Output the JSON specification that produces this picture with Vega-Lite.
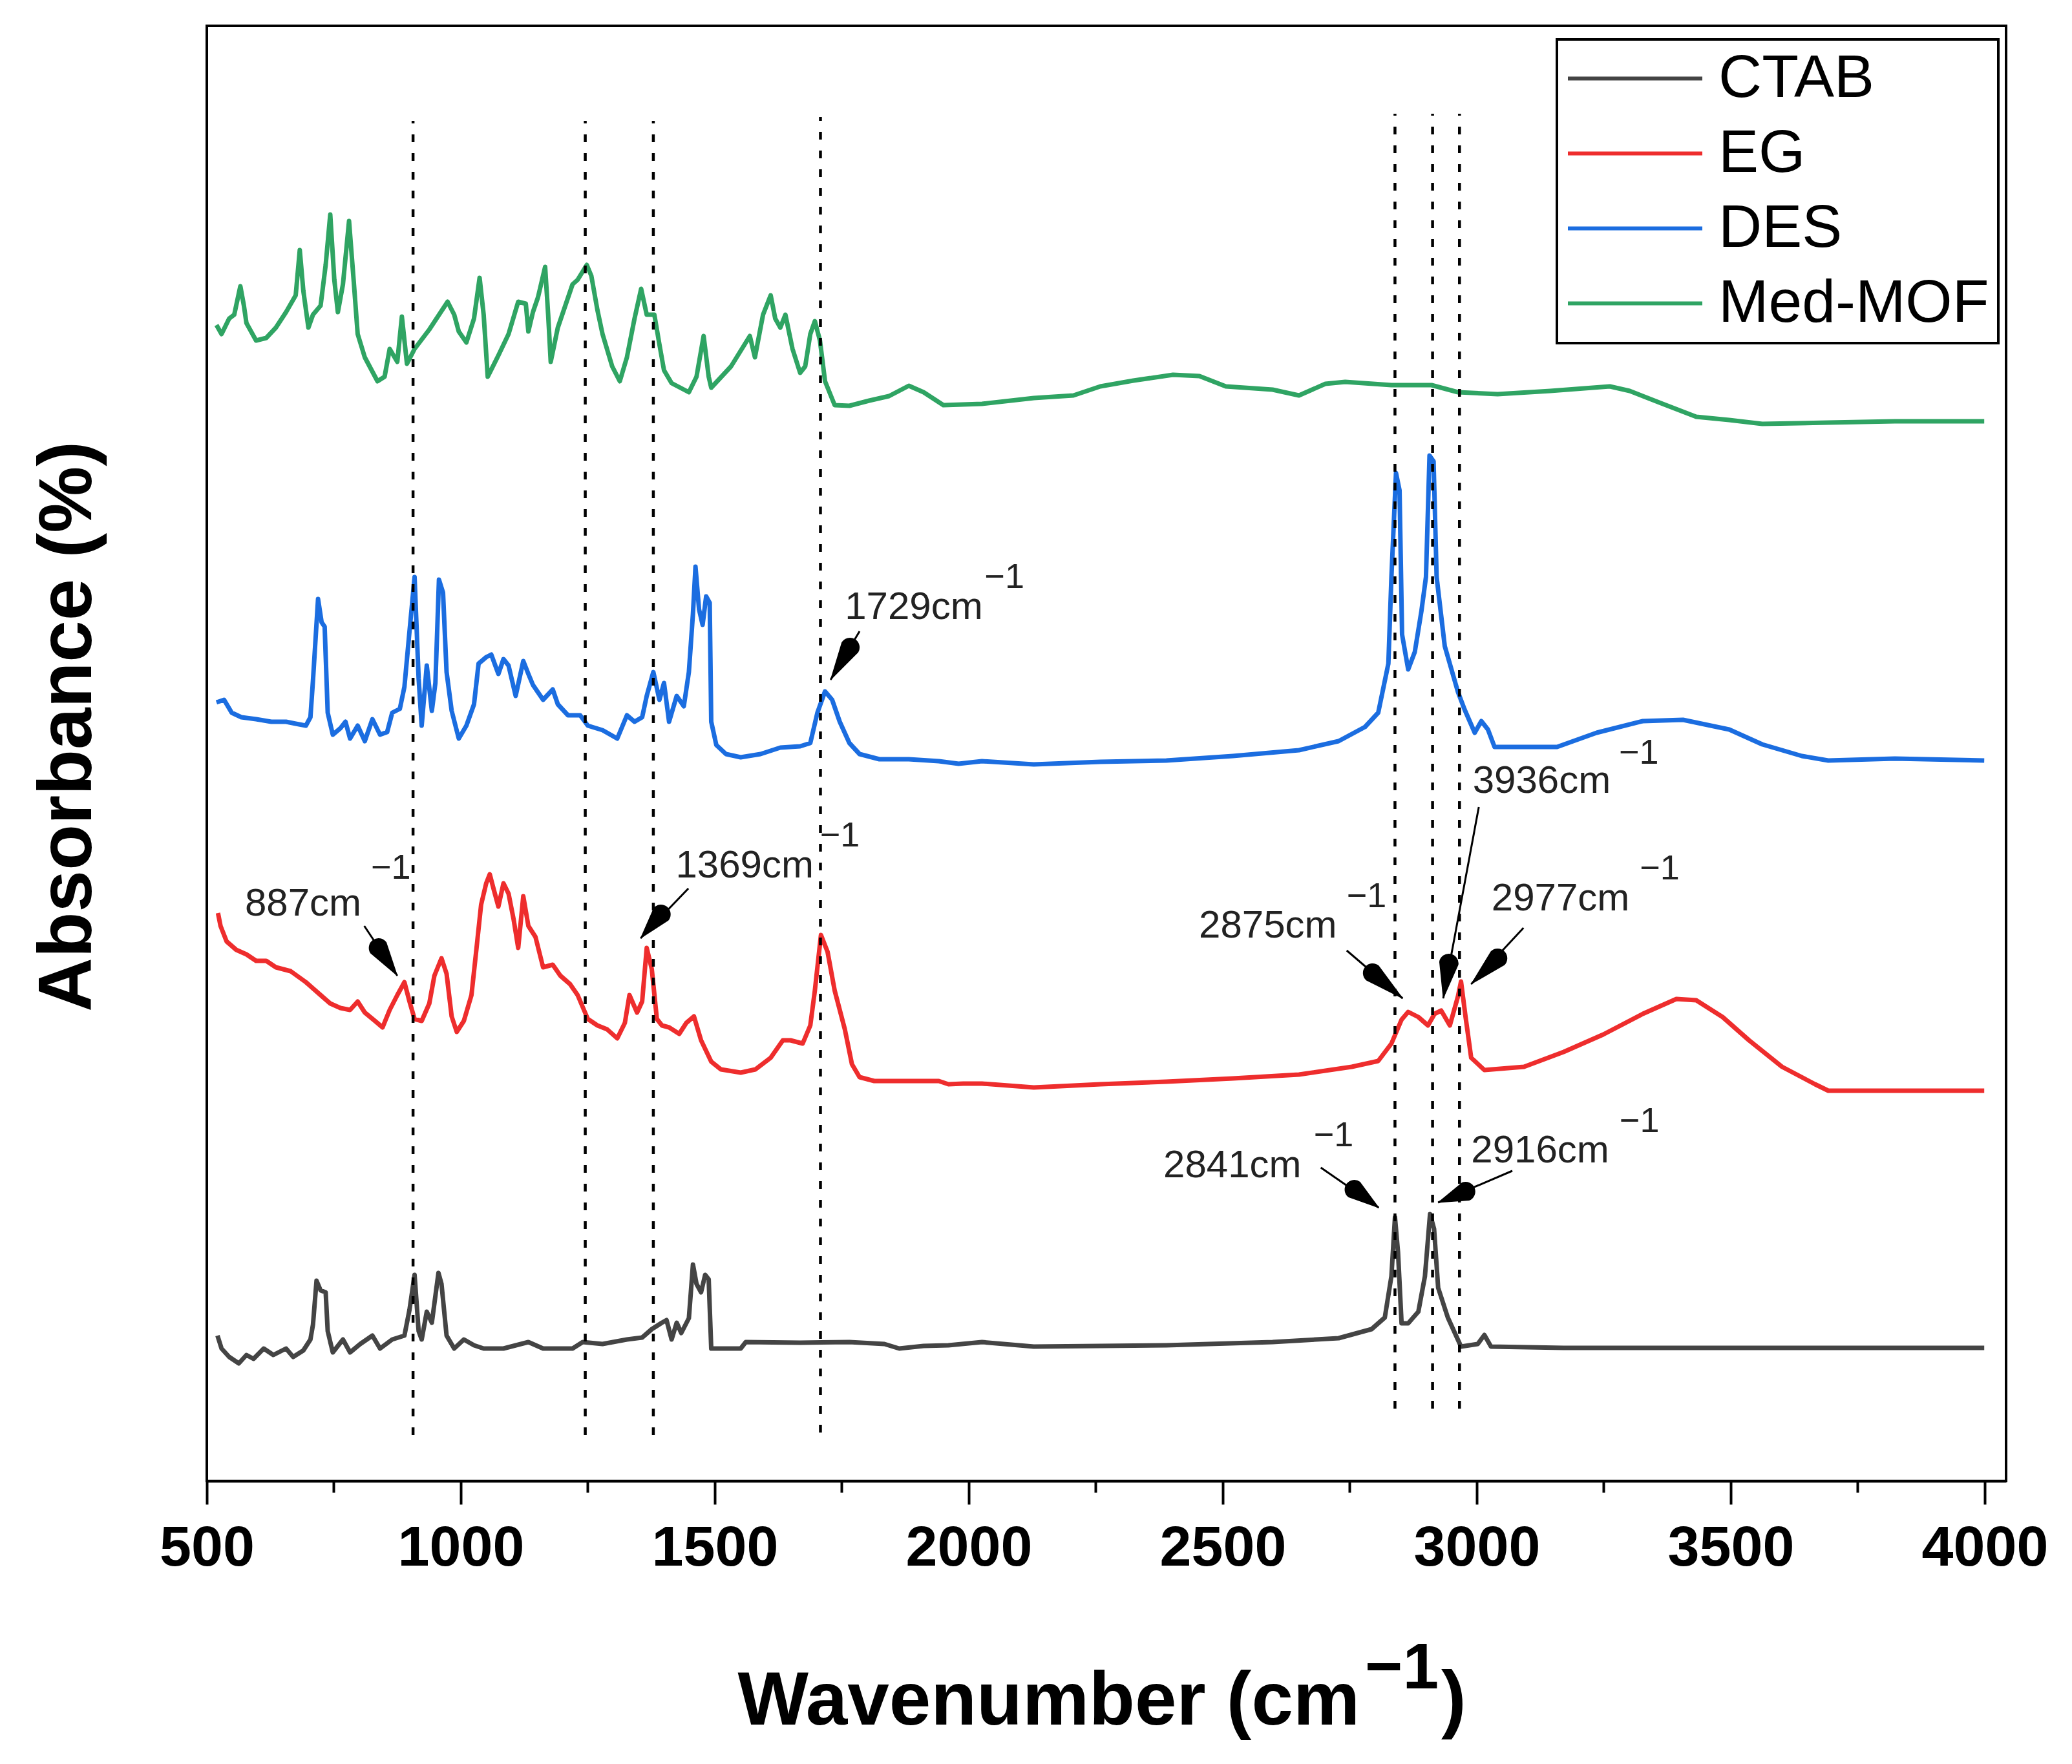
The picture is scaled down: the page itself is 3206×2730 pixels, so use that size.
{
  "$schema": "https://vega.github.io/schema/vega-lite/v6.json",
  "width": 2784,
  "height": 2252,
  "autosize": {"type": "none"},
  "padding": {"left": 320, "top": 40, "right": 102, "bottom": 438},
  "background": "white",
  "config": {
    "view": {"stroke": "black", "strokeWidth": 4},
    "font": "Liberation Sans"
  },
  "datasets": {
    "spectra": [
      {"s":"Med-MOF","x":519,"y":1789},{"s":"Med-MOF","x":529,"y":1775},{"s":"Med-MOF","x":544,"y":1799},{"s":"Med-MOF","x":554,"y":1805},{"s":"Med-MOF","x":566,"y":1849},{"s":"Med-MOF","x":573,"y":1819},{"s":"Med-MOF","x":578,"y":1792},{"s":"Med-MOF","x":597,"y":1765},{"s":"Med-MOF","x":617,"y":1769},{"s":"Med-MOF","x":636,"y":1785},{"s":"Med-MOF","x":656,"y":1809},{"s":"Med-MOF","x":675,"y":1835},{"s":"Med-MOF","x":683,"y":1905},{"s":"Med-MOF","x":690,"y":1842},{"s":"Med-MOF","x":700,"y":1785},{"s":"Med-MOF","x":709,"y":1805},{"s":"Med-MOF","x":724,"y":1819},{"s":"Med-MOF","x":734,"y":1882},{"s":"Med-MOF","x":743,"y":1960},{"s":"Med-MOF","x":751,"y":1859},{"s":"Med-MOF","x":758,"y":1809},{"s":"Med-MOF","x":768,"y":1852},{"s":"Med-MOF","x":780,"y":1950},{"s":"Med-MOF","x":789,"y":1859},{"s":"Med-MOF","x":797,"y":1775},{"s":"Med-MOF","x":811,"y":1739},{"s":"Med-MOF","x":836,"y":1702},{"s":"Med-MOF","x":850,"y":1709},{"s":"Med-MOF","x":860,"y":1752},{"s":"Med-MOF","x":875,"y":1732},{"s":"Med-MOF","x":884,"y":1802},{"s":"Med-MOF","x":894,"y":1729},{"s":"Med-MOF","x":909,"y":1752},{"s":"Med-MOF","x":938,"y":1782},{"s":"Med-MOF","x":974,"y":1825},{"s":"Med-MOF","x":987,"y":1805},{"s":"Med-MOF","x":996,"y":1779},{"s":"Med-MOF","x":1011,"y":1762},{"s":"Med-MOF","x":1026,"y":1799},{"s":"Med-MOF","x":1037,"y":1862},{"s":"Med-MOF","x":1045,"y":1805},{"s":"Med-MOF","x":1053,"y":1709},{"s":"Med-MOF","x":1074,"y":1742},{"s":"Med-MOF","x":1094,"y":1775},{"s":"Med-MOF","x":1113,"y":1825},{"s":"Med-MOF","x":1128,"y":1822},{"s":"Med-MOF","x":1133,"y":1779},{"s":"Med-MOF","x":1142,"y":1809},{"s":"Med-MOF","x":1152,"y":1832},{"s":"Med-MOF","x":1166,"y":1879},{"s":"Med-MOF","x":1172,"y":1805},{"s":"Med-MOF","x":1177,"y":1732},{"s":"Med-MOF","x":1191,"y":1785},{"s":"Med-MOF","x":1220,"y":1852},{"s":"Med-MOF","x":1230,"y":1859},{"s":"Med-MOF","x":1248,"y":1882},{"s":"Med-MOF","x":1257,"y":1865},{"s":"Med-MOF","x":1269,"y":1812},{"s":"Med-MOF","x":1279,"y":1775},{"s":"Med-MOF","x":1298,"y":1725},{"s":"Med-MOF","x":1313,"y":1702},{"s":"Med-MOF","x":1327,"y":1739},{"s":"Med-MOF","x":1342,"y":1799},{"s":"Med-MOF","x":1355,"y":1845},{"s":"Med-MOF","x":1366,"y":1805},{"s":"Med-MOF","x":1381,"y":1805},{"s":"Med-MOF","x":1391,"y":1759},{"s":"Med-MOF","x":1400,"y":1719},{"s":"Med-MOF","x":1415,"y":1699},{"s":"Med-MOF","x":1449,"y":1685},{"s":"Med-MOF","x":1464,"y":1709},{"s":"Med-MOF","x":1478,"y":1772},{"s":"Med-MOF","x":1488,"y":1709},{"s":"Med-MOF","x":1493,"y":1692},{"s":"Med-MOF","x":1532,"y":1725},{"s":"Med-MOF","x":1569,"y":1772},{"s":"Med-MOF","x":1579,"y":1739},{"s":"Med-MOF","x":1595,"y":1805},{"s":"Med-MOF","x":1610,"y":1835},{"s":"Med-MOF","x":1619,"y":1799},{"s":"Med-MOF","x":1629,"y":1785},{"s":"Med-MOF","x":1639,"y":1805},{"s":"Med-MOF","x":1653,"y":1752},{"s":"Med-MOF","x":1668,"y":1715},{"s":"Med-MOF","x":1678,"y":1725},{"s":"Med-MOF","x":1688,"y":1775},{"s":"Med-MOF","x":1697,"y":1795},{"s":"Med-MOF","x":1707,"y":1765},{"s":"Med-MOF","x":1717,"y":1702},{"s":"Med-MOF","x":1736,"y":1665},{"s":"Med-MOF","x":1765,"y":1664},{"s":"Med-MOF","x":1804,"y":1672},{"s":"Med-MOF","x":1843,"y":1679},{"s":"Med-MOF","x":1882,"y":1695},{"s":"Med-MOF","x":1911,"y":1685},{"s":"Med-MOF","x":1950,"y":1665},{"s":"Med-MOF","x":2026,"y":1667},{"s":"Med-MOF","x":2128,"y":1676},{"s":"Med-MOF","x":2206,"y":1680},{"s":"Med-MOF","x":2259,"y":1694},{"s":"Med-MOF","x":2324,"y":1703},{"s":"Med-MOF","x":2402,"y":1712},{"s":"Med-MOF","x":2454,"y":1710},{"s":"Med-MOF","x":2506,"y":1694},{"s":"Med-MOF","x":2598,"y":1689},{"s":"Med-MOF","x":2650,"y":1680},{"s":"Med-MOF","x":2702,"y":1698},{"s":"Med-MOF","x":2741,"y":1701},{"s":"Med-MOF","x":2832,"y":1696},{"s":"Med-MOF","x":2911,"y":1696},{"s":"Med-MOF","x":2963,"y":1685},{"s":"Med-MOF","x":3041,"y":1682},{"s":"Med-MOF","x":3145,"y":1687},{"s":"Med-MOF","x":3262,"y":1694},{"s":"Med-MOF","x":3301,"y":1687},{"s":"Med-MOF","x":3366,"y":1667},{"s":"Med-MOF","x":3432,"y":1647},{"s":"Med-MOF","x":3497,"y":1642},{"s":"Med-MOF","x":3562,"y":1636},{"s":"Med-MOF","x":3692,"y":1638},{"s":"Med-MOF","x":3823,"y":1640},{"s":"Med-MOF","x":3999,"y":1640},

      {"s":"DES","x":519,"y":1205},{"s":"DES","x":534,"y":1209},{"s":"DES","x":549,"y":1189},{"s":"DES","x":568,"y":1182},{"s":"DES","x":597,"y":1179},{"s":"DES","x":627,"y":1175},{"s":"DES","x":656,"y":1175},{"s":"DES","x":675,"y":1172},{"s":"DES","x":695,"y":1169},{"s":"DES","x":704,"y":1182},{"s":"DES","x":709,"y":1239},{"s":"DES","x":719,"y":1365},{"s":"DES","x":726,"y":1329},{"s":"DES","x":732,"y":1322},{"s":"DES","x":738,"y":1189},{"s":"DES","x":748,"y":1155},{"s":"DES","x":763,"y":1165},{"s":"DES","x":773,"y":1175},{"s":"DES","x":782,"y":1149},{"s":"DES","x":797,"y":1169},{"s":"DES","x":811,"y":1145},{"s":"DES","x":826,"y":1179},{"s":"DES","x":841,"y":1155},{"s":"DES","x":855,"y":1159},{"s":"DES","x":865,"y":1189},{"s":"DES","x":880,"y":1195},{"s":"DES","x":889,"y":1229},{"s":"DES","x":899,"y":1315},{"s":"DES","x":909,"y":1399},{"s":"DES","x":917,"y":1242},{"s":"DES","x":923,"y":1169},{"s":"DES","x":933,"y":1262},{"s":"DES","x":943,"y":1192},{"s":"DES","x":950,"y":1235},{"s":"DES","x":957,"y":1395},{"s":"DES","x":965,"y":1375},{"s":"DES","x":972,"y":1252},{"s":"DES","x":982,"y":1192},{"s":"DES","x":996,"y":1149},{"s":"DES","x":1011,"y":1169},{"s":"DES","x":1026,"y":1202},{"s":"DES","x":1035,"y":1265},{"s":"DES","x":1050,"y":1275},{"s":"DES","x":1060,"y":1279},{"s":"DES","x":1074,"y":1249},{"s":"DES","x":1084,"y":1272},{"s":"DES","x":1094,"y":1262},{"s":"DES","x":1108,"y":1215},{"s":"DES","x":1123,"y":1269},{"s":"DES","x":1133,"y":1249},{"s":"DES","x":1142,"y":1232},{"s":"DES","x":1162,"y":1209},{"s":"DES","x":1181,"y":1225},{"s":"DES","x":1191,"y":1202},{"s":"DES","x":1211,"y":1185},{"s":"DES","x":1235,"y":1185},{"s":"DES","x":1250,"y":1169},{"s":"DES","x":1279,"y":1162},{"s":"DES","x":1308,"y":1149},{"s":"DES","x":1327,"y":1185},{"s":"DES","x":1342,"y":1175},{"s":"DES","x":1357,"y":1182},{"s":"DES","x":1366,"y":1215},{"s":"DES","x":1379,"y":1252},{"s":"DES","x":1391,"y":1209},{"s":"DES","x":1400,"y":1235},{"s":"DES","x":1410,"y":1175},{"s":"DES","x":1425,"y":1215},{"s":"DES","x":1439,"y":1199},{"s":"DES","x":1449,"y":1252},{"s":"DES","x":1457,"y":1342},{"s":"DES","x":1462,"y":1415},{"s":"DES","x":1469,"y":1349},{"s":"DES","x":1476,"y":1325},{"s":"DES","x":1483,"y":1369},{"s":"DES","x":1490,"y":1359},{"s":"DES","x":1493,"y":1175},{"s":"DES","x":1503,"y":1139},{"s":"DES","x":1522,"y":1125},{"s":"DES","x":1551,"y":1120},{"s":"DES","x":1590,"y":1125},{"s":"DES","x":1629,"y":1135},{"s":"DES","x":1668,"y":1137},{"s":"DES","x":1688,"y":1142},{"s":"DES","x":1702,"y":1189},{"s":"DES","x":1717,"y":1222},{"s":"DES","x":1731,"y":1209},{"s":"DES","x":1746,"y":1175},{"s":"DES","x":1765,"y":1142},{"s":"DES","x":1785,"y":1125},{"s":"DES","x":1824,"y":1117},{"s":"DES","x":1882,"y":1117},{"s":"DES","x":1941,"y":1114},{"s":"DES","x":1980,"y":1110},{"s":"DES","x":2026,"y":1114},{"s":"DES","x":2128,"y":1109},{"s":"DES","x":2259,"y":1113},{"s":"DES","x":2389,"y":1115},{"s":"DES","x":2520,"y":1122},{"s":"DES","x":2650,"y":1131},{"s":"DES","x":2728,"y":1145},{"s":"DES","x":2780,"y":1167},{"s":"DES","x":2806,"y":1189},{"s":"DES","x":2826,"y":1265},{"s":"DES","x":2832,"y":1399},{"s":"DES","x":2841,"y":1560},{"s":"DES","x":2848,"y":1533},{"s":"DES","x":2853,"y":1310},{"s":"DES","x":2865,"y":1256},{"s":"DES","x":2878,"y":1283},{"s":"DES","x":2891,"y":1346},{"s":"DES","x":2900,"y":1399},{"s":"DES","x":2907,"y":1587},{"s":"DES","x":2915,"y":1578},{"s":"DES","x":2921,"y":1399},{"s":"DES","x":2937,"y":1292},{"s":"DES","x":2963,"y":1221},{"s":"DES","x":2976,"y":1194},{"s":"DES","x":2996,"y":1158},{"s":"DES","x":3009,"y":1176},{"s":"DES","x":3022,"y":1163},{"s":"DES","x":3035,"y":1136},{"s":"DES","x":3158,"y":1136},{"s":"DES","x":3236,"y":1158},{"s":"DES","x":3327,"y":1176},{"s":"DES","x":3406,"y":1178},{"s":"DES","x":3497,"y":1163},{"s":"DES","x":3562,"y":1140},{"s":"DES","x":3640,"y":1122},{"s":"DES","x":3692,"y":1115},{"s":"DES","x":3823,"y":1118},{"s":"DES","x":3999,"y":1115},

      {"s":"EG","x":522,"y":879},{"s":"EG","x":527,"y":859},{"s":"EG","x":539,"y":835},{"s":"EG","x":558,"y":822},{"s":"EG","x":578,"y":815},{"s":"EG","x":597,"y":805},{"s":"EG","x":617,"y":805},{"s":"EG","x":636,"y":795},{"s":"EG","x":665,"y":789},{"s":"EG","x":695,"y":772},{"s":"EG","x":724,"y":752},{"s":"EG","x":743,"y":739},{"s":"EG","x":763,"y":732},{"s":"EG","x":782,"y":729},{"s":"EG","x":797,"y":742},{"s":"EG","x":811,"y":725},{"s":"EG","x":831,"y":712},{"s":"EG","x":846,"y":702},{"s":"EG","x":860,"y":729},{"s":"EG","x":875,"y":752},{"s":"EG","x":889,"y":772},{"s":"EG","x":899,"y":742},{"s":"EG","x":909,"y":715},{"s":"EG","x":923,"y":712},{"s":"EG","x":938,"y":739},{"s":"EG","x":948,"y":782},{"s":"EG","x":962,"y":809},{"s":"EG","x":972,"y":785},{"s":"EG","x":982,"y":719},{"s":"EG","x":992,"y":695},{"s":"EG","x":1006,"y":712},{"s":"EG","x":1021,"y":752},{"s":"EG","x":1031,"y":825},{"s":"EG","x":1040,"y":892},{"s":"EG","x":1050,"y":925},{"s":"EG","x":1057,"y":939},{"s":"EG","x":1065,"y":915},{"s":"EG","x":1074,"y":889},{"s":"EG","x":1084,"y":925},{"s":"EG","x":1094,"y":909},{"s":"EG","x":1104,"y":869},{"s":"EG","x":1113,"y":825},{"s":"EG","x":1123,"y":905},{"s":"EG","x":1133,"y":859},{"s":"EG","x":1147,"y":842},{"s":"EG","x":1162,"y":795},{"s":"EG","x":1181,"y":799},{"s":"EG","x":1196,"y":782},{"s":"EG","x":1215,"y":769},{"s":"EG","x":1230,"y":752},{"s":"EG","x":1250,"y":715},{"s":"EG","x":1269,"y":705},{"s":"EG","x":1288,"y":699},{"s":"EG","x":1308,"y":685},{"s":"EG","x":1323,"y":709},{"s":"EG","x":1332,"y":752},{"s":"EG","x":1347,"y":725},{"s":"EG","x":1357,"y":742},{"s":"EG","x":1366,"y":825},{"s":"EG","x":1376,"y":792},{"s":"EG","x":1386,"y":715},{"s":"EG","x":1396,"y":705},{"s":"EG","x":1410,"y":702},{"s":"EG","x":1430,"y":692},{"s":"EG","x":1444,"y":709},{"s":"EG","x":1459,"y":719},{"s":"EG","x":1473,"y":682},{"s":"EG","x":1493,"y":649},{"s":"EG","x":1512,"y":637},{"s":"EG","x":1551,"y":632},{"s":"EG","x":1580,"y":637},{"s":"EG","x":1610,"y":655},{"s":"EG","x":1634,"y":682},{"s":"EG","x":1649,"y":682},{"s":"EG","x":1673,"y":677},{"s":"EG","x":1688,"y":705},{"s":"EG","x":1697,"y":759},{"s":"EG","x":1709,"y":845},{"s":"EG","x":1722,"y":819},{"s":"EG","x":1736,"y":759},{"s":"EG","x":1756,"y":699},{"s":"EG","x":1770,"y":645},{"s":"EG","x":1785,"y":625},{"s":"EG","x":1814,"y":619},{"s":"EG","x":1882,"y":619},{"s":"EG","x":1941,"y":619},{"s":"EG","x":1960,"y":614},{"s":"EG","x":1989,"y":615},{"s":"EG","x":2026,"y":615},{"s":"EG","x":2128,"y":609},{"s":"EG","x":2259,"y":614},{"s":"EG","x":2389,"y":618},{"s":"EG","x":2520,"y":623},{"s":"EG","x":2650,"y":629},{"s":"EG","x":2754,"y":641},{"s":"EG","x":2806,"y":650},{"s":"EG","x":2832,"y":677},{"s":"EG","x":2852,"y":714},{"s":"EG","x":2865,"y":726},{"s":"EG","x":2885,"y":718},{"s":"EG","x":2904,"y":705},{"s":"EG","x":2917,"y":723},{"s":"EG","x":2930,"y":728},{"s":"EG","x":2947,"y":705},{"s":"EG","x":2963,"y":750},{"s":"EG","x":2969,"y":773},{"s":"EG","x":2978,"y":718},{"s":"EG","x":2989,"y":655},{"s":"EG","x":3015,"y":636},{"s":"EG","x":3093,"y":641},{"s":"EG","x":3171,"y":664},{"s":"EG","x":3249,"y":691},{"s":"EG","x":3327,"y":723},{"s":"EG","x":3393,"y":746},{"s":"EG","x":3432,"y":744},{"s":"EG","x":3484,"y":718},{"s":"EG","x":3536,"y":682},{"s":"EG","x":3601,"y":641},{"s":"EG","x":3666,"y":614},{"s":"EG","x":3692,"y":604},{"s":"EG","x":3823,"y":604},{"s":"EG","x":3999,"y":604},

      {"s":"CTAB","x":521,"y":225},{"s":"CTAB","x":529,"y":205},{"s":"CTAB","x":544,"y":192},{"s":"CTAB","x":563,"y":182},{"s":"CTAB","x":578,"y":195},{"s":"CTAB","x":592,"y":189},{"s":"CTAB","x":612,"y":205},{"s":"CTAB","x":631,"y":195},{"s":"CTAB","x":656,"y":205},{"s":"CTAB","x":670,"y":192},{"s":"CTAB","x":690,"y":202},{"s":"CTAB","x":704,"y":219},{"s":"CTAB","x":709,"y":242},{"s":"CTAB","x":716,"y":310},{"s":"CTAB","x":724,"y":295},{"s":"CTAB","x":734,"y":292},{"s":"CTAB","x":738,"y":232},{"s":"CTAB","x":748,"y":199},{"s":"CTAB","x":768,"y":219},{"s":"CTAB","x":782,"y":199},{"s":"CTAB","x":802,"y":212},{"s":"CTAB","x":826,"y":225},{"s":"CTAB","x":841,"y":205},{"s":"CTAB","x":865,"y":219},{"s":"CTAB","x":889,"y":225},{"s":"CTAB","x":899,"y":265},{"s":"CTAB","x":909,"y":319},{"s":"CTAB","x":917,"y":232},{"s":"CTAB","x":923,"y":219},{"s":"CTAB","x":933,"y":262},{"s":"CTAB","x":943,"y":245},{"s":"CTAB","x":956,"y":322},{"s":"CTAB","x":962,"y":305},{"s":"CTAB","x":972,"y":225},{"s":"CTAB","x":987,"y":205},{"s":"CTAB","x":1006,"y":219},{"s":"CTAB","x":1026,"y":210},{"s":"CTAB","x":1045,"y":205},{"s":"CTAB","x":1084,"y":205},{"s":"CTAB","x":1133,"y":215},{"s":"CTAB","x":1162,"y":205},{"s":"CTAB","x":1220,"y":205},{"s":"CTAB","x":1240,"y":215},{"s":"CTAB","x":1279,"y":212},{"s":"CTAB","x":1327,"y":219},{"s":"CTAB","x":1357,"y":222},{"s":"CTAB","x":1376,"y":235},{"s":"CTAB","x":1396,"y":245},{"s":"CTAB","x":1405,"y":249},{"s":"CTAB","x":1415,"y":219},{"s":"CTAB","x":1425,"y":245},{"s":"CTAB","x":1434,"y":229},{"s":"CTAB","x":1449,"y":252},{"s":"CTAB","x":1457,"y":335},{"s":"CTAB","x":1464,"y":305},{"s":"CTAB","x":1473,"y":292},{"s":"CTAB","x":1481,"y":319},{"s":"CTAB","x":1488,"y":312},{"s":"CTAB","x":1493,"y":205},{"s":"CTAB","x":1551,"y":205},{"s":"CTAB","x":1561,"y":215},{"s":"CTAB","x":1668,"y":214},{"s":"CTAB","x":1765,"y":215},{"s":"CTAB","x":1834,"y":212},{"s":"CTAB","x":1863,"y":205},{"s":"CTAB","x":1911,"y":209},{"s":"CTAB","x":1960,"y":210},{"s":"CTAB","x":2026,"y":215},{"s":"CTAB","x":2128,"y":208},{"s":"CTAB","x":2389,"y":210},{"s":"CTAB","x":2598,"y":215},{"s":"CTAB","x":2728,"y":221},{"s":"CTAB","x":2793,"y":235},{"s":"CTAB","x":2819,"y":253},{"s":"CTAB","x":2832,"y":317},{"s":"CTAB","x":2839,"y":408},{"s":"CTAB","x":2845,"y":354},{"s":"CTAB","x":2852,"y":244},{"s":"CTAB","x":2865,"y":244},{"s":"CTAB","x":2885,"y":262},{"s":"CTAB","x":2898,"y":317},{"s":"CTAB","x":2908,"y":413},{"s":"CTAB","x":2916,"y":390},{"s":"CTAB","x":2924,"y":299},{"s":"CTAB","x":2943,"y":253},{"s":"CTAB","x":2969,"y":208},{"s":"CTAB","x":3002,"y":212},{"s":"CTAB","x":3015,"y":226},{"s":"CTAB","x":3028,"y":208},{"s":"CTAB","x":3171,"y":206},{"s":"CTAB","x":3432,"y":206},{"s":"CTAB","x":3692,"y":206},{"s":"CTAB","x":3999,"y":206}
    ],
    "vlines": [
      {"x":906,"y1":71,"y2":2105},{"x":1245,"y1":71,"y2":2105},{"x":1379,"y1":71,"y2":2105},{"x":1708,"y1":75,"y2":2111},
      {"x":2839,"y1":112,"y2":2116},{"x":2913,"y1":112,"y2":2116},{"x":2966,"y1":112,"y2":2116}
    ],
    "minor": [{"x":750},{"x":1250},{"x":1750},{"x":2250},{"x":2750},{"x":3250},{"x":3750}],
    "shafts": [
      {"id":"1729","x":1785,"y":1315,"x2":1728,"y2":1240},
      {"id":"887","x":810,"y":859,"x2":875,"y2":782},
      {"id":"1369","x":1448,"y":917,"x2":1354,"y2":840},
      {"id":"2875","x":2744,"y":821,"x2":2854,"y2":747},
      {"id":"3936","x":3004,"y":1043,"x2":2934,"y2":747},
      {"id":"2977","x":3092,"y":856,"x2":2989,"y2":769},
      {"id":"2841","x":2693,"y":485,"x2":2807,"y2":423},
      {"id":"2916","x":3070,"y":480,"x2":2924,"y2":431}
    ],
    "heads": [
      {"id":"1729","end":"base","x":1766,"y":1290},{"id":"1729","end":"tip","x":1728,"y":1240},
      {"id":"887","end":"base","x":838,"y":825},{"id":"887","end":"tip","x":875,"y":782},
      {"id":"1369","end":"base","x":1394,"y":877},{"id":"1369","end":"tip","x":1354,"y":840},
      {"id":"2875","end":"base","x":2795,"y":786},{"id":"2875","end":"tip","x":2854,"y":747},
      {"id":"3936","end":"base","x":2945,"y":801},{"id":"3936","end":"tip","x":2934,"y":747},
      {"id":"2977","end":"base","x":3041,"y":809},{"id":"2977","end":"tip","x":2989,"y":769},
      {"id":"2841","end":"base","x":2759,"y":451},{"id":"2841","end":"tip","x":2807,"y":423},
      {"id":"2916","end":"base","x":2978,"y":448},{"id":"2916","end":"tip","x":2924,"y":431}
    ],
    "labels": [
      {"t":"1729cm","x":1756,"y":1334},{"t":"887cm","x":575,"y":875},{"t":"1369cm","x":1423,"y":934},
      {"t":"2875cm","x":2453,"y":841},{"t":"3936cm","x":2992,"y":1065},{"t":"2977cm","x":3029,"y":883},
      {"t":"2841cm","x":2383,"y":470},{"t":"2916cm","x":2989,"y":493}
    ],
    "sups": [
      {"t":"−1","x":2031,"y":1382},{"t":"−1","x":823,"y":932},{"t":"−1","x":1707,"y":982},
      {"t":"−1","x":2744,"y":888},{"t":"−1","x":3280,"y":1110},{"t":"−1","x":3321,"y":931},
      {"t":"−1","x":2679,"y":518},{"t":"−1","x":3281,"y":540}
    ],
    "xtitle_sup": [{"t":"−1","x":2780,"y":-321}],
    "xtitle_end": [{"t":")","x":2930,"y":-376}]
  },
  "layer": [
    {
      "data": {"name": "spectra"},
      "mark": {"type": "line", "strokeWidth": 7, "strokeJoin": "round"},
      "encoding": {
        "x": {
          "field": "x", "type": "quantitative",
          "scale": {"domain": [500, 4042], "nice": false, "zero": false},
          "axis": {
            "values": [500, 1000, 1500, 2000, 2500, 3000, 3500, 4000],
            "format": "d",
            "grid": false,
            "title": "Wavenumber (cm",
            "titleFont": "Liberation Sans", "titleFontSize": 116, "titleFontWeight": "bold", "titleColor": "black",
            "titleX": 821, "titleY": 376, "titleAlign": "left", "titleBaseline": "alphabetic",
            "labelFont": "Liberation Sans", "labelFontSize": 88, "labelFontWeight": "bold", "labelColor": "black",
            "labelPadding": 24, "labelFlush": false, "labelOverlap": false, "labelLimit": 1000,
            "tickSize": 36, "tickWidth": 4, "tickColor": "black",
            "domainColor": "black", "domainWidth": 4
          }
        },
        "y": {
          "field": "y", "type": "quantitative",
          "scale": {"domain": [0, 2252], "nice": false, "zero": false},
          "axis": {
            "title": "Absorbance (%)",
            "labels": false, "ticks": false, "domain": false, "grid": false,
            "titleFont": "Liberation Sans", "titleFontSize": 116, "titleFontWeight": "bold", "titleColor": "black",
            "titleX": -180, "titleY": 1084, "titleAngle": 270, "titleAlign": "center", "titleBaseline": "alphabetic", "titleLimit": 3000
          }
        },
        "color": {
          "field": "s", "type": "nominal",
          "scale": {"domain": ["CTAB", "EG", "DES", "Med-MOF"], "range": ["#444444", "#ee2d2d", "#1b6de0", "#2fa463"]},
          "legend": {
            "orient": "none", "legendX": 2089, "legendY": 21,
            "title": null,
            "symbolType": "stroke", "symbolSize": 43264, "symbolStrokeWidth": 6,
            "labelFont": "Liberation Sans", "labelFontSize": 93, "labelColor": "black", "labelOffset": 22, "labelLimit": 1000,
            "clipHeight": 93,
            "rowPadding": 22, "padding": 14,
            "strokeColor": "black",
            "encode": {"legend": {"update": {"strokeWidth": {"value": 4}}}}
          }
        }
      }
    },
    {
      "data": {"name": "vlines"},
      "mark": {"type": "rule", "color": "black", "strokeWidth": 4.5, "strokeDash": [12, 17]},
      "encoding": {
        "x": {"field": "x", "type": "quantitative"},
        "y": {"field": "y1", "type": "quantitative"},
        "y2": {"field": "y2"}
      }
    },
    {
      "data": {"name": "minor"},
      "mark": {"type": "rule", "color": "black", "strokeWidth": 4},
      "encoding": {
        "x": {"field": "x", "type": "quantitative"},
        "y": {"datum": 0, "type": "quantitative"},
        "y2": {"datum": -18}
      }
    },
    {
      "data": {"name": "shafts"},
      "mark": {"type": "rule", "color": "black", "strokeWidth": 3},
      "encoding": {
        "x": {"field": "x", "type": "quantitative"},
        "y": {"field": "y", "type": "quantitative"},
        "x2": {"field": "x2"},
        "y2": {"field": "y2"}
      }
    },
    {
      "data": {"name": "heads"},
      "mark": {"type": "trail", "color": "black"},
      "encoding": {
        "x": {"field": "x", "type": "quantitative"},
        "y": {"field": "y", "type": "quantitative"},
        "detail": {"field": "id", "type": "nominal"},
        "size": {"field": "end", "type": "ordinal", "scale": {"type": "point", "domain": ["base", "tip"], "range": [30, 0], "padding": 0}, "legend": null}
      }
    },
    {
      "data": {"name": "labels"},
      "mark": {"type": "text", "align": "left", "baseline": "alphabetic", "font": "Liberation Sans", "fontSize": 60, "color": "#222222"},
      "encoding": {
        "x": {"field": "x", "type": "quantitative"},
        "y": {"field": "y", "type": "quantitative"},
        "text": {"field": "t"}
      }
    },
    {
      "data": {"name": "sups"},
      "mark": {"type": "text", "align": "left", "baseline": "alphabetic", "font": "Liberation Sans", "fontSize": 54, "color": "#222222"},
      "encoding": {
        "x": {"field": "x", "type": "quantitative"},
        "y": {"field": "y", "type": "quantitative"},
        "text": {"field": "t"}
      }
    },
    {
      "data": {"name": "xtitle_sup"},
      "mark": {"type": "text", "align": "left", "baseline": "alphabetic", "font": "Liberation Sans", "fontSize": 100, "fontWeight": "bold", "color": "black"},
      "encoding": {
        "x": {"field": "x", "type": "quantitative"},
        "y": {"field": "y", "type": "quantitative"},
        "text": {"field": "t"}
      }
    },
    {
      "data": {"name": "xtitle_end"},
      "mark": {"type": "text", "align": "left", "baseline": "alphabetic", "font": "Liberation Sans", "fontSize": 116, "fontWeight": "bold", "color": "black"},
      "encoding": {
        "x": {"field": "x", "type": "quantitative"},
        "y": {"field": "y", "type": "quantitative"},
        "text": {"field": "t"}
      }
    }
  ]
}
